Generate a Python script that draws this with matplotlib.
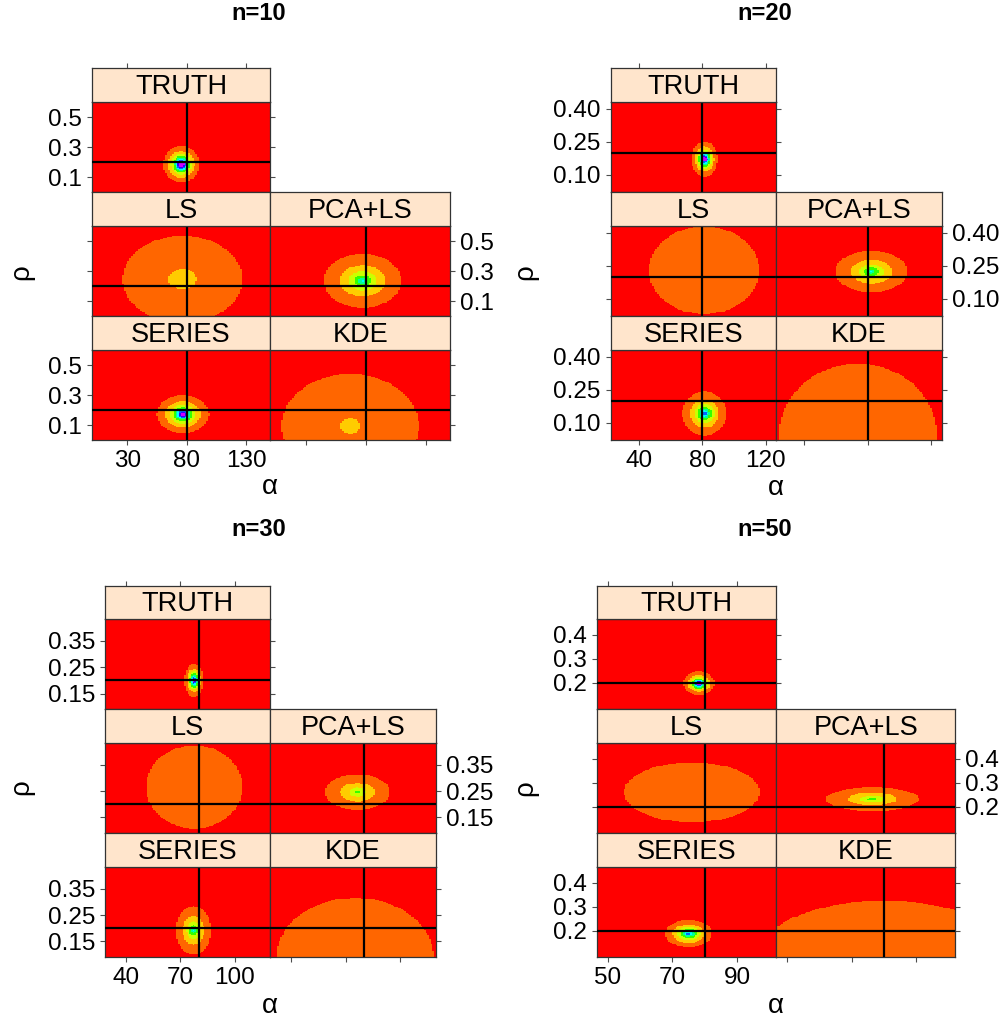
import numpy as np
import matplotlib
matplotlib.use("Agg")
import matplotlib.pyplot as plt
from matplotlib.colors import ListedColormap, BoundaryNorm

plt.rcParams['font.family'] = ['Liberation Sans', 'DejaVu Sans']

# ---------------- data ----------------
GROUPS = ['n=10', 'n=20', 'n=30', 'n=50']
METHODS = ['TRUTH', 'LS', 'PCA+LS', 'SERIES', 'KDE']

TRUE_ALPHA = 80
TRUE_RHO = 0.2

ALPHA_LIM = [(0.0, 150.0), (22.4, 126.5), (28.4, 119.7), (46.5, 102.1)]
RHO_LIM = [(0.0, 0.6), (0.023, 0.43), (0.091, 0.432), (0.09, 0.466)]
ALPHA_TICKS = [[30, 80, 130], [40, 80, 120], [40, 70, 100], [50, 70, 90]]
RHO_TICKS = [[0.1, 0.3, 0.5], [0.10, 0.25, 0.40], [0.15, 0.25, 0.35], [0.2, 0.3, 0.4]]
RHO_TICKLABELS = [['0.1', '0.3', '0.5'], ['0.10', '0.25', '0.40'],
                  ['0.15', '0.25', '0.35'], ['0.2', '0.3', '0.4']]

# density blob descriptions per method, one value per group (n=10,20,30,50)
CENTER_ALPHA = {
    'TRUTH':  [75.3, 81.5, 77.5, 78.2],
    'LS':     [76.3, 81.2, 77.6, 76.0],
    'PCA+LS': [77.0, 82.3, 76.5, 76.4],
    'SERIES': [76.5, 81.5, 77.2, 75.0],
    'KDE':    [66.7, 73.9, 75.2, 80.0],
}
CENTER_RHO = {
    'TRUTH':  [0.185, 0.172, 0.200, 0.198],
    'LS':     [0.245, 0.230, 0.266, 0.260],
    'PCA+LS': [0.235, 0.224, 0.246, 0.232],
    'SERIES': [0.172, 0.143, 0.192, 0.188],
    'KDE':    [0.093, 0.050, 0.090, 0.090],
}
HALF_ALPHA = {
    'TRUTH':  [15.1, 8.3, 5.1, 4.85],
    'LS':     [50.3, 34.7, 26.7, 21.0],
    'PCA+LS': [32.3, 22.8, 18.0, 14.4],
    'SERIES': [21.8, 14.0, 9.7, 7.3],
    'KDE':    [57.3, 49.4, 43.4, 39.4],
}
HALF_RHO = {
    'TRUTH':  [0.122, 0.079, 0.062, 0.049],
    'LS':     [0.290, 0.198, 0.157, 0.125],
    'PCA+LS': [0.180, 0.093, 0.066, 0.049],
    'SERIES': [0.127, 0.098, 0.092, 0.057],
    'KDE':    [0.347, 0.317, 0.225, 0.235],
}
PEAK_LEVEL = {
    'TRUTH':  [13.0, 12.0, 12.0, 12.0],
    'LS':     [2.08, 1.6, 1.6, 1.6],
    'PCA+LS': [6.6, 6.3, 4.8, 4.8],
    'SERIES': [13.0, 8.5, 6.5, 8.6],
    'KDE':    [2.03, 1.7, 1.7, 1.7],
}
SHAPE = {
    'TRUTH':  [1.0, 1.0, 1.0, 1.0],
    'LS':     [2.0, 2.0, 2.0, 2.0],
    'PCA+LS': [0.85, 0.85, 0.9, 0.9],
    'SERIES': [0.8, 0.9, 0.9, 1.0],
    'KDE':    [2.0, 2.0, 2.0, 2.0],
}

LEVEL_COLORS = ['#FF0000', '#FF6600', '#FFCC00', '#CCFF00', '#33FF00', '#00FF99',
                '#00FFFF', '#0066FF', '#3300FF', '#CC00FF']

# ---------------- layout (pixels) ----------------
W, H = 1007, 1021
fig = plt.figure(figsize=(W / 100, H / 100), dpi=100)

COL_X = [(91.7, 270.3, 450.0), (610.7, 776.0, 941.7), (105.3, 270.3, 435.7), (596.7, 776.0, 955.3)]
ROWS_A = dict(strip=[68.0, 192.0, 316.0], top=[102.0, 226.0, 350.0], bot=[192.0, 316.0, 440.0])
ROWS_B = dict(strip=[585.7, 709.3, 833.0], top=[619.0, 743.0, 867.0], bot=[709.3, 833.0, 957.0])
GROUP_ROWS = [ROWS_A, ROWS_A, ROWS_B, ROWS_B]
TITLE_XY = [(259, 14), (765, 14), (259, 530), (765, 530)]
ALABEL_XY = [(270, 487), (776, 488), (270, 1006), (776, 1006)]
RLABEL_XY = [(21, 272), (525, 272), (21, 787), (525, 788)]

PANEL_POS = {'TRUTH': (0, 0), 'LS': (1, 0), 'PCA+LS': (1, 1), 'SERIES': (2, 0), 'KDE': (2, 1)}

cmap = ListedColormap(LEVEL_COLORS)
norm = BoundaryNorm(np.arange(-0.5, len(LEVEL_COLORS) + 0.5), len(LEVEL_COLORS))

TICK_COL = '#4D4D4D'
FRAME_COL = '#333333'
TICK_FS = 17.5
STRIP_FS = 19.5


def ax_px(x0, y0, x1, y1):
    return fig.add_axes([x0 / W, 1 - y1 / H, (x1 - x0) / W, (y1 - y0) / H])


def level_field(g, m, n=100):
    a_edges = np.linspace(ALPHA_LIM[g][0], ALPHA_LIM[g][1], n + 1)
    r_edges = np.linspace(RHO_LIM[g][0], RHO_LIM[g][1], n + 1)
    ac = 0.5 * (a_edges[:-1] + a_edges[1:])
    rc = 0.5 * (r_edges[:-1] + r_edges[1:])
    A, R = np.meshgrid(ac, rc)
    d = np.sqrt(((A - CENTER_ALPHA[m][g]) / HALF_ALPHA[m][g]) ** 2 +
                ((R - CENTER_RHO[m][g]) / HALF_RHO[m][g]) ** 2)
    P = PEAK_LEVEL[m][g]
    z = P * np.exp(-np.log(P) * d ** SHAPE[m][g])
    return a_edges, r_edges, np.clip(np.floor(z), 0, len(LEVEL_COLORS) - 1)


AXIS_RULES = {
    # left, leftlab, right, rightlab, bottom, bottomlab
    'TRUTH':  (True, True, True, False, False, False),
    'LS':     (True, False, False, False, False, False),
    'PCA+LS': (False, False, True, True, False, False),
    'SERIES': (True, True, False, False, True, True),
    'KDE':    (False, False, True, False, True, False),
}

for g in range(4):
    rows = GROUP_ROWS[g]
    cx = COL_X[g]
    for m in METHODS:
        r, c = PANEL_POS[m]
        x0, x1 = cx[c], cx[c + 1]
        ax = ax_px(x0, rows['top'][r], x1, rows['bot'][r])
        ae, re_, lev = level_field(g, m)
        ax.pcolormesh(ae, re_, lev, cmap=cmap, norm=norm, shading='flat', rasterized=True)
        ax.axvline(TRUE_ALPHA, color='black', lw=1.6, zorder=3)
        ax.axhline(TRUE_RHO, color='black', lw=1.6, zorder=3)
        ax.set_xlim(*ALPHA_LIM[g])
        ax.set_ylim(*RHO_LIM[g])
        ax.set_xticks(ALPHA_TICKS[g])
        ax.set_xticklabels([str(v) for v in ALPHA_TICKS[g]])
        ax.set_yticks(RHO_TICKS[g])
        ax.set_yticklabels(RHO_TICKLABELS[g])
        L, LL, Rt, RL, B, BL = AXIS_RULES[m]
        ax.tick_params(axis='y', left=L, labelleft=LL, right=Rt, labelright=RL,
                       direction='out', length=3.8, width=0.8, color=TICK_COL,
                       labelsize=TICK_FS, pad=3.5)
        ax.tick_params(axis='x', bottom=B, labelbottom=BL, top=False, labeltop=False,
                       direction='out', length=3.8, width=0.8, color=TICK_COL,
                       labelsize=TICK_FS, pad=3.5)
        for s in ax.spines.values():
            s.set_color(FRAME_COL)
            s.set_linewidth(0.9)
        # strip
        sax = ax_px(x0, rows['strip'][r], x1, rows['top'][r])
        sax.set_facecolor('#FFE5CC')
        sax.set_xlim(*ALPHA_LIM[g])
        sax.set_ylim(0, 1)
        sax.set_yticks([])
        if m == 'TRUTH':
            sax.set_xticks(ALPHA_TICKS[g])
            sax.tick_params(axis='x', top=True, bottom=False, labeltop=False, labelbottom=False,
                            direction='out', length=3.8, width=0.8, color=TICK_COL)
        else:
            sax.set_xticks([])
        for s in sax.spines.values():
            s.set_color(FRAME_COL)
            s.set_linewidth(0.9)
        sax.text(0.5, 0.45, m, transform=sax.transAxes, ha='center', va='center',
                 fontsize=STRIP_FS, color='black')

    tx, ty = TITLE_XY[g]
    fig.text(tx / W, 1 - ty / H, GROUPS[g], ha='center', va='center',
             fontsize=17, fontweight='bold')
    ax_x, ax_y = ALABEL_XY[g]
    fig.text(ax_x / W, 1 - ax_y / H, 'α', ha='center', va='center', fontsize=20)
    rx, ry = RLABEL_XY[g]
    fig.text(rx / W, 1 - ry / H, 'ρ', ha='center', va='center', fontsize=20, rotation=90)

fig.savefig('out.png', dpi=100, facecolor='white')
